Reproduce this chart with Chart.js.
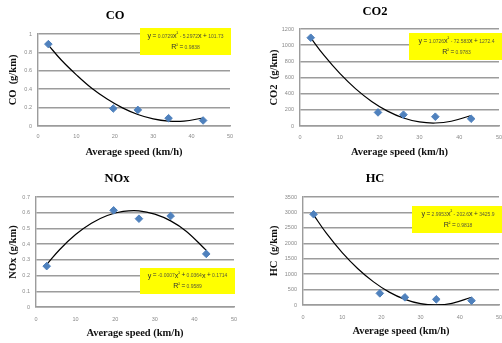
<!DOCTYPE html>
<html>
<head>
<meta charset="utf-8">
<script src="https://cdn.jsdelivr.net/npm/chart.js@4/dist/chart.umd.min.js"></script>
<style>
  html, body { margin: 0; padding: 0; background: #ffffff; }
  #page { position: relative; width: 502px; height: 343px; overflow: hidden; background: #fff; }
  .panel { position: absolute; overflow: hidden; }
  .panel canvas { position: absolute; left: 0; top: 0; }
</style>
</head>
<body>
<div id="page">
  <div class="panel" style="left:0;top:0;width:251px;height:171px;"><canvas id="cCO" width="251" height="171"></canvas></div>
  <div class="panel" style="left:251px;top:0;width:251px;height:171px;"><canvas id="cCO2" width="275" height="171"></canvas></div>
  <div class="panel" style="left:0;top:171px;width:251px;height:172px;"><canvas id="cNOx" width="251" height="172"></canvas></div>
  <div class="panel" style="left:251px;top:171px;width:251px;height:172px;"><canvas id="cHC" width="275" height="172"></canvas></div>
</div>
<script>
// ---------------- DATA ----------------
const speed = [2.7, 19.6, 26, 34, 43];            // average speed (km/h)
const coValues  = [0.89, 0.19, 0.175, 0.085, 0.06];
const co2Values = [1092, 168, 140, 115, 90];
const noxValues = [0.26, 0.615, 0.562, 0.579, 0.338];
const hcValues  = [2940, 377, 248, 183, 140];

// polynomial trend lines
const trendX   = [2.7, 6, 10, 14, 18, 22, 26, 30, 34, 38, 43];
const coTrend  = [0.88, 0.72, 0.556, 0.41, 0.293, 0.197, 0.125, 0.077, 0.053, 0.053, 0.087];
const co2Trend = [1090, 876, 650, 459, 304, 184, 99, 50, 37, 59, 130];
const noxTrend = [0.27, 0.366, 0.461, 0.533, 0.582, 0.608, 0.612, 0.591, 0.548, 0.481, 0.36];
const hcTrend  = [2920, 2318, 1699, 1176, 749, 418, 183, 43, 2, 53, 250];

// tick labels
const xTicks    = [0, 10, 20, 30, 40, 50];
const coTicks   = [0, 0.2, 0.4, 0.6, 0.8, 1];
const co2Ticks  = [0, 200, 400, 600, 800, 1000, 1200];
const noxTicks  = [0, 0.1, 0.2, 0.3, 0.4, 0.5, 0.6, 0.7];
const hcTicks   = [0, 500, 1000, 1500, 2000, 2500, 3000, 3500];

// texts
const titles    = ["CO", "CO2", "NOx", "HC"];
const yTitles   = ["CO  (g/km)", "CO2  (g/km)", "NOx (g/km)", "HC  (g/km)"];
const xTitle    = "Average speed (km/h)";
const equations = ["y = 0.0729x² - 5.2972x + 101.73", "y = 1.0726x² - 72.583x + 1272.4",
                   "y = -0.0007x² + 0.0364x + 0.1714", "y = 2.9953x² - 202.6x + 3425.9"];
const rSquared  = ["R² = 0.9838", "R² = 0.9783", "R² = 0.9589", "R² = 0.9818"];

// ---------------- DRAWING ----------------
const SERIF = "'Liberation Serif', 'DejaVu Serif', serif";
const SANS = "'Liberation Sans', Arial, sans-serif";
const GRID = '#9c9c9c';
const MARK = '#4F81BD';

function drawRich(ctx, text, cx, cy) {
  const parts = [];
  for (const ch of text) {
    let size = 5, dy = 0, color = '#5a5a3a';
    if (ch === 'y' || ch === 'x' || ch === 'R') { size = 7.2; color = '#333'; }
    else if (ch === '=' || ch === '+') { size = 6.5; color = '#333'; }
    else if (ch === '²') { size = 5; dy = -2.2; color = '#333'; }
    parts.push({ch, size, dy, color});
  }
  let total = 0;
  for (const p of parts) { ctx.font = p.size + 'px ' + SANS; p.w = ctx.measureText(p.ch).width; total += p.w; }
  let x = cx - total / 2;
  ctx.textBaseline = 'middle';
  ctx.textAlign = 'left';
  for (const p of parts) {
    ctx.font = p.size + 'px ' + SANS;
    ctx.fillStyle = p.color;
    ctx.fillText(p.ch, x, cy + p.dy + (p.size > 6 ? 0 : 0.4));
    x += p.w;
  }
}

const eqBoxPlugin = {
  id: 'eqBox',
  afterDatasetsDraw(chart, args, opts) {
    const ctx = chart.ctx;
    ctx.save();
    ctx.fillStyle = '#FFFF00';
    ctx.fillRect(opts.x, opts.y, opts.w, opts.h);
    const cx = opts.x + opts.w / 2;
    drawRich(ctx, opts.line1, cx, opts.y + opts.h * 0.29);
    drawRich(ctx, opts.line2, cx, opts.y + opts.h * 0.71);
    ctx.restore();
  }
};

function makeChart(id, idx, values, trend, yTickList, lay) {
  const ymax = yTickList[yTickList.length - 1];
  const canvas = document.getElementById(id);
  const W = canvas.width, H = canvas.height;
  return new Chart(canvas, {
    type: 'scatter',
    data: {
      datasets: [
        {
          label: 'trend',
          data: trendX.map((x, i) => ({x, y: trend[i]})),
          showLine: true,
          borderColor: '#000',
          borderWidth: 1.2,
          pointRadius: 0,
          tension: 0.4,
          fill: false,
          order: 2
        },
        {
          label: titles[idx],
          data: speed.map((x, i) => ({x, y: values[i]})),
          pointStyle: 'rectRot',
          pointRadius: 3.8,
          backgroundColor: MARK,
          borderColor: MARK,
          borderWidth: 1,
          order: 1
        }
      ]
    },
    options: {
      responsive: false,
      animation: false,
      devicePixelRatio: 1,
      layout: { padding: { left: 0, right: W - lay.right, top: 0, bottom: 0 } },
      plugins: {
        legend: { display: false },
        tooltip: { enabled: false },
        title: {
          display: true,
          text: titles[idx],
          color: '#000',
          font: { family: SERIF, size: 12.5, weight: 'bold', lineHeight: 1.2 },
          padding: { top: lay.titleY - 7.5, bottom: lay.top - (lay.titleY - 7.5) - 15 }
        },
        eqBox: { x: lay.box[0], y: lay.box[1], w: lay.box[2], h: lay.box[3],
                 line1: equations[idx], line2: rSquared[idx] }
      },
      scales: {
        x: {
          type: 'linear', min: 0, max: 50,
          afterBuildTicks: s => { s.ticks = xTicks.map(v => ({value: v})); },
          afterFit: s => { s.height = H - lay.bottom; },
          grid: { display: false, drawTicks: false },
          border: { display: true, color: GRID, width: 1.4 },
          ticks: { color: '#8a8a8a', font: { family: SANS, size: 5.5 }, padding: lay.xtp, maxRotation: 0 },
          title: { display: true, text: xTitle, color: '#111',
                   font: { family: SERIF, size: 10.5, weight: 'bold', lineHeight: 1.2 },
                   padding: { top: 0, bottom: (H - lay.xTitleY) - 6.3 } }
        },
        y: {
          type: 'linear', min: 0, max: ymax,
          afterBuildTicks: s => { s.ticks = yTickList.map(v => ({value: v})); },
          afterFit: s => { s.width = lay.left; },
          grid: { display: true, drawTicks: false, color: GRID, lineWidth: 1.4 },
          border: { display: true, color: GRID, width: 1.4 },
          ticks: { color: '#8a8a8a', font: { family: SANS, size: 5.5 }, padding: 6,
                   callback: v => String(v) },
          title: { display: true, text: yTitles[idx], color: '#111',
                   font: { family: SERIF, size: 10.5, weight: 'bold', lineHeight: 1.2 },
                   padding: { top: lay.yTitleX - 6.3, bottom: 0 } }
        }
      }
    },
    plugins: [eqBoxPlugin]
  });
}

makeChart('cCO', 0, coValues, coTrend, coTicks,
  { left: 38, right: 230, top: 34, bottom: 126, titleY: 16, xTitleY: 152, yTitleX: 13, xtp: 7,
    box: [140, 28, 91, 27] });
makeChart('cCO2', 1, co2Values, co2Trend, co2Ticks,
  { left: 49, right: 248, top: 29, bottom: 126, titleY: 12, xTitleY: 152, yTitleX: 23, xtp: 8,
    box: [158, 33, 95, 27] });
makeChart('cNOx', 2, noxValues, noxTrend, noxTicks,
  { left: 36, right: 234, top: 26, bottom: 136, titleY: 7.5, xTitleY: 162, yTitleX: 13, xtp: 9,
    box: [140, 97, 95, 26] });
makeChart('cHC', 3, hcValues, hcTrend, hcTicks,
  { left: 52, right: 248, top: 26, bottom: 134, titleY: 7.5, xTitleY: 160, yTitleX: 23, xtp: 9,
    box: [161, 35, 92, 27] });
</script>
</body>
</html>
